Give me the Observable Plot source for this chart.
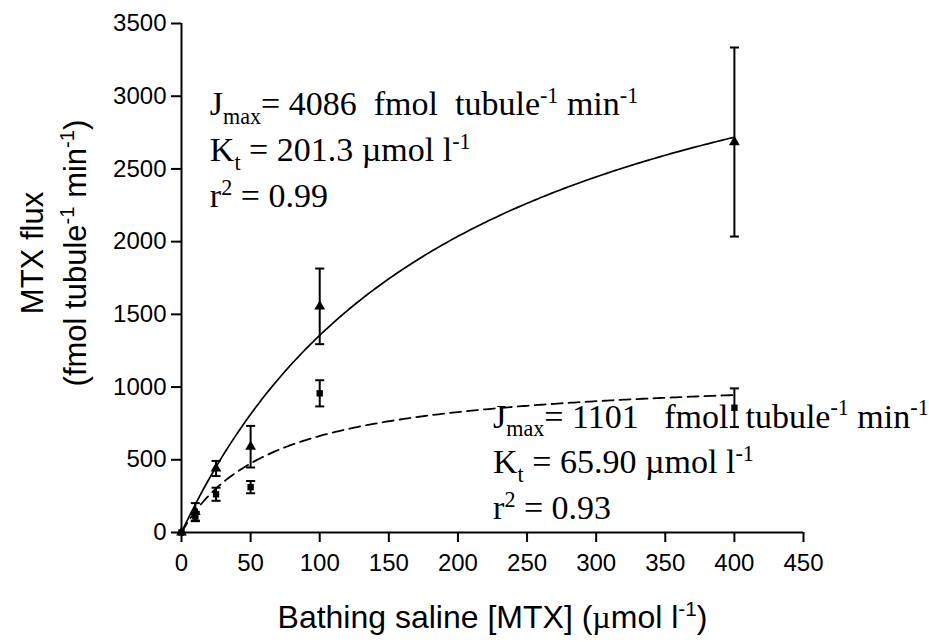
<!DOCTYPE html>
<html>
<head>
<meta charset="utf-8">
<script src="https://cdn.jsdelivr.net/npm/d3@7"></script>
<script src="https://cdn.jsdelivr.net/npm/@observablehq/plot@0.6"></script>
<style>
  html, body { margin: 0; padding: 0; background: #fff; }
  #chart svg text { white-space: pre; }
</style>
</head>
<body>
<div id="chart"></div>
<script>
// ---- data ----
const concentrations = [0, 10, 25, 50, 100, 400];          // bathing saline [MTX] (µmol l-1)
const fluxTriangle   = [0, 142, 440, 590, 1555, 2685];     // solid-fit series (mean)
const semTriangle    = [0, 60, 52, 143, 260, 650];         // error (±)
const fluxSquare     = [0, 110, 263, 312, 957, 858];       // dashed-fit series (mean)
const semSquare      = [0, 32, 45, 42, 90, 133];           // error (±)
const fitJmax = [4086, 1101];   // fmol tubule-1 min-1
const fitKt   = [201.3, 65.90]; // µmol l-1
const fitR2   = [0.99, 0.93];
const xTicks = [0, 50, 100, 150, 200, 250, 300, 350, 400, 450];
const yTicks = [0, 500, 1000, 1500, 2000, 2500, 3000, 3500];

// ---- tables built from the arrays ----
const tri = concentrations.map((c, i) => ({c, v: fluxTriangle[i], e: semTriangle[i]}));
const sq  = concentrations.map((c, i) => ({c, v: fluxSquare[i], e: semSquare[i]}));
const xMax = d3.max(concentrations);
const fitCurve = k => d3.range(0, xMax + 0.001, 2).map(c => ({c, v: fitJmax[k] * c / (fitKt[k] + c)}));
const curveSolid = fitCurve(0);
const curveDashed = fitCurve(1);

const annTop = [
  `J_{max}= ${fitJmax[0]}  fmol  tubule^{-1} min^{-1}`,
  `K_{t} = ${fitKt[0].toFixed(1)} µmol l^{-1}`,
  `r^{2} = ${fitR2[0].toFixed(2)}`
];
const annBottom = [
  `J_{max}= ${fitJmax[1]}   fmol  tubule^{-1} min^{-1}`,
  `K_{t} = ${fitKt[1].toFixed(2)} µmol l^{-1}`,
  `r^{2} = ${fitR2[1].toFixed(2)}`
];

const capSymbol = {draw(ctx, size) { const w = Math.sqrt(size) / 2; ctx.moveTo(-w, 0); ctx.lineTo(w, 0); }};

function errorMarks(data) {
  const d = data.filter(r => r.e > 0);
  return [
    Plot.ruleX(d, {x: "c", y1: r => r.v - r.e, y2: r => r.v + r.e, stroke: "black", strokeWidth: 2}),
    Plot.dot(d, {x: "c", y: r => r.v + r.e, symbol: capSymbol, r: 5.1, stroke: "black", strokeWidth: 2, fill: "none"}),
    Plot.dot(d, {x: "c", y: r => r.v - r.e, symbol: capSymbol, r: 5.1, stroke: "black", strokeWidth: 2, fill: "none"})
  ];
}

const serif = "'Liberation Serif', 'Times New Roman', serif";
const annFs = 34;

const chart = Plot.plot({
  width: 929,
  height: 642,
  marginLeft: 181,
  marginRight: 126,
  marginTop: 23,
  marginBottom: 110,
  style: {background: "white", fontFamily: "'Liberation Sans', Arial, sans-serif", color: "black"},
  x: {domain: [xTicks[0], xTicks[xTicks.length - 1]]},
  y: {domain: [yTicks[0], yTicks[yTicks.length - 1]]},
  marks: [
    Plot.axisX({ticks: xTicks, tickSize: 10, tickPadding: 11, fontSize: 24, tickFormat: "d", label: null, strokeWidth: 2}),
    Plot.axisY({ticks: yTicks, tickSize: 10, tickPadding: 5, fontSize: 24, tickFormat: "d", label: null, strokeWidth: 2}),
    Plot.ruleY([yTicks[0]], {x1: xTicks[0], x2: xTicks[xTicks.length - 1], strokeWidth: 2}),
    Plot.ruleX([xTicks[0]], {y1: yTicks[0], y2: yTicks[yTicks.length - 1], strokeWidth: 2}),
    // fitted curves
    Plot.line(curveSolid, {x: "c", y: "v", stroke: "black", strokeWidth: 1.7}),
    Plot.line(curveDashed, {x: "c", y: "v", stroke: "black", strokeWidth: 1.8, strokeDasharray: "11,6"}),
    // error bars
    ...errorMarks(tri),
    ...errorMarks(sq),
    // points
    Plot.dot(tri, {x: "c", y: "v", symbol: "triangle", r: 4, fill: "black", stroke: "none"}),
    Plot.dot(sq, {x: "c", y: "v", symbol: "square", r: 3.6, fill: "black", stroke: "none"}),
    // annotations
    Plot.text(annTop, {x: 20.5, y: (d, i) => [2869, 2553, 2237][i], text: d => d, textAnchor: "start", lineAnchor: "bottom", fontFamily: serif, fontSize: annFs, fill: "black"}),
    Plot.text(annBottom, {x: 225.4, y: (d, i) => [722, 406, 90][i], text: d => d, textAnchor: "start", lineAnchor: "bottom", fontFamily: serif, fontSize: annFs, fill: "black"}),
    // axis titles
    Plot.text(["Bathing saline [MTX] (µmol l^{-1})"], {frameAnchor: "bottom", dy: 95, text: d => d, textAnchor: "middle", lineAnchor: "bottom", fontSize: 32, fill: "black"}),
    Plot.text(["MTX flux"], {frameAnchor: "left", dx: -139, dy: -25, rotate: -90, text: d => d, textAnchor: "middle", lineAnchor: "bottom", fontSize: 31, fill: "black"}),
    Plot.text(["(fmol tubule^{-1} min^{-1})"], {frameAnchor: "left", dx: -96, dy: -25, rotate: -90, text: d => d, textAnchor: "middle", lineAnchor: "bottom", fontSize: 31, fill: "black"})
  ]
});

document.getElementById("chart").appendChild(chart);

// rich text: _{..} subscript, ^{..} superscript, µ in serif
d3.select(chart).selectAll("text").each(function() {
  const el = this;
  const s = el.textContent;
  if (!/[_^]\{|µ/.test(s)) return;
  const fs = parseFloat(el.getAttribute("font-size")) || parseFloat(getComputedStyle(el).fontSize) || 33;
  const isSerif = (el.getAttribute("font-family") || "").includes("Serif");
  el.textContent = "";
  const parts = s.split(/(_\{[^}]*\}|\^\{[^}]*\}|µ)/).filter(p => p !== "");
  let offset = 0;
  for (const p of parts) {
    const t = document.createElementNS("http://www.w3.org/2000/svg", "tspan");
    let target = 0, txt = p, small = false;
    if (p.startsWith("_{")) { target = 0.25 * fs; txt = p.slice(2, -1); small = true; }
    else if (p.startsWith("^{")) { target = -0.36 * fs; txt = p.slice(2, -1); small = true; }
    if (small) t.setAttribute("font-size", (0.65 * fs).toFixed(1));
    if (p === "µ" && !isSerif) t.setAttribute("font-family", serif);
    const dy = target - offset;
    if (dy !== 0) t.setAttribute("dy", dy.toFixed(2));
    offset = target;
    t.textContent = txt;
    el.appendChild(t);
  }
});
</script>
</body>
</html>
